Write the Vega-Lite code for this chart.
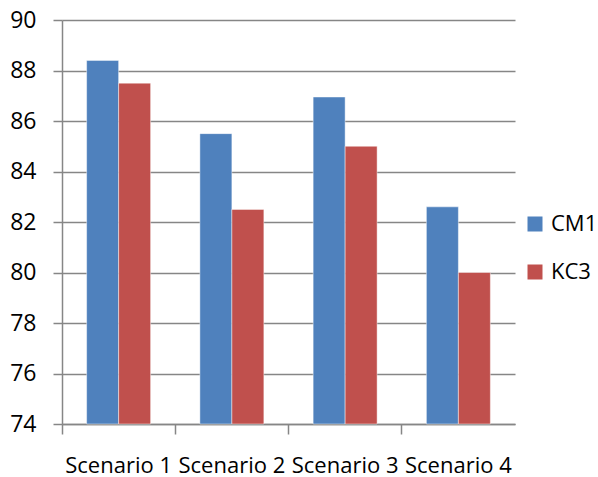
{
  "$schema": "https://vega.github.io/schema/vega-lite/v6.json",
  "autosize": {"type": "none"},
  "width": 453,
  "height": 404,
  "padding": {"left": 62, "top": 20, "right": 83, "bottom": 53},
  "background": "white",
  "config": {
    "font": "Open Sans",
    "view": {"stroke": null}
  },
  "data": {
    "values": [
      {"scenario": "Scenario 1", "series": "CM1", "value": 88.4},
      {"scenario": "Scenario 1", "series": "KC3", "value": 87.5},
      {"scenario": "Scenario 2", "series": "CM1", "value": 85.5},
      {"scenario": "Scenario 2", "series": "KC3", "value": 82.5},
      {"scenario": "Scenario 3", "series": "CM1", "value": 86.95},
      {"scenario": "Scenario 3", "series": "KC3", "value": 85.0},
      {"scenario": "Scenario 4", "series": "CM1", "value": 82.6},
      {"scenario": "Scenario 4", "series": "KC3", "value": 80.0}
    ]
  },
  "mark": {"type": "bar", "stroke": "#ffffff", "strokeOpacity": 0.45, "strokeWidth": 1},
  "encoding": {
    "x": {
      "field": "scenario",
      "type": "nominal",
      "title": null,
      "scale": {"paddingInner": 0, "paddingOuter": 0},
      "axis": {
        "bandPosition": 0,
        "labelAngle": 0,
        "labelFontSize": 22,
        "labelColor": "#000000",
        "labelPadding": 21,
        "labelOverlap": false,
        "labelBound": false,
        "labelFlush": false,
        "tickSize": 10,
        "tickColor": "#868686",
        "tickWidth": 1.5,
        "domainColor": "#868686",
        "domainWidth": 1.5,
        "grid": false
      }
    },
    "xOffset": {
      "field": "series",
      "type": "nominal",
      "scale": {"paddingInner": 0, "paddingOuter": 0.77}
    },
    "y": {
      "field": "value",
      "type": "quantitative",
      "title": null,
      "scale": {"domain": [74, 90], "zero": false, "nice": false},
      "axis": {
        "values": [74, 76, 78, 80, 82, 84, 86, 88, 90],
        "labelFontSize": 23,
        "labelColor": "#000000",
        "labelPadding": 17,
        "tickSize": 9,
        "tickColor": "#868686",
        "tickWidth": 1.5,
        "domainColor": "#868686",
        "domainWidth": 1.5,
        "grid": true,
        "gridColor": "#868686",
        "gridWidth": 1.5
      }
    },
    "y2": {"datum": 74},
    "color": {
      "field": "series",
      "type": "nominal",
      "title": null,
      "scale": {"domain": ["CM1", "KC3"], "range": ["#4F81BD", "#C0504D"]},
      "legend": {
        "orient": "none",
        "legendX": 462,
        "legendY": 193,
        "symbolType": "square",
        "symbolSize": 225,
        "symbolStrokeWidth": 0,
        "labelFontSize": 22,
        "labelColor": "#000000",
        "labelOffset": 5,
        "rowPadding": 26,
        "symbolOpacity": 1
      }
    }
  }
}
